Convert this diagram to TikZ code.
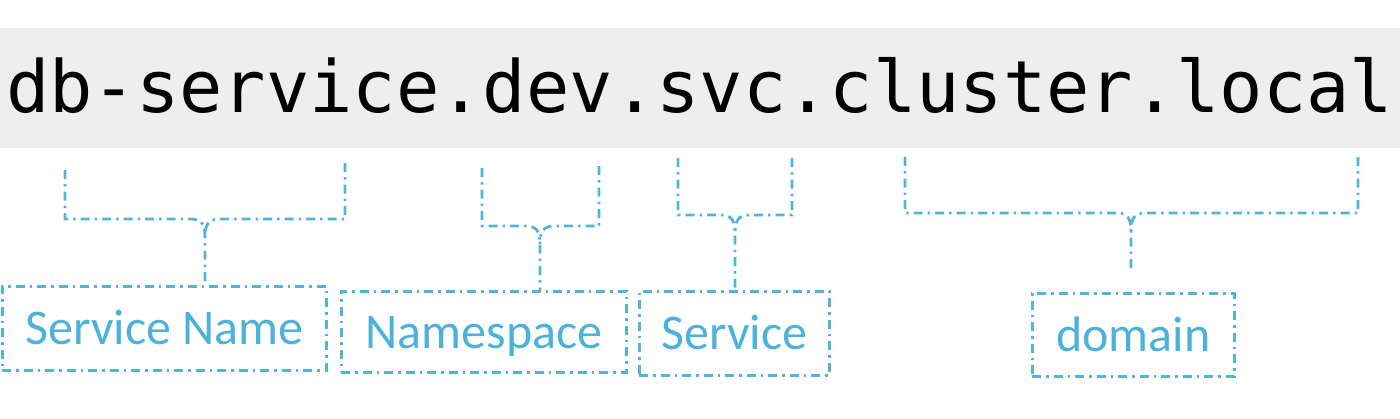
\documentclass[tikz,border=0pt]{standalone}
\usepackage{fontspec}
\setmainfont{Carlito}
\newfontfamily\codefont{DejaVu Sans Mono}
\definecolor{bandgray}{HTML}{EEEEEE}
\definecolor{lblue}{HTML}{52B4DA}
\definecolor{tblue}{HTML}{4DB2D9}
\begin{document}
\begin{tikzpicture}[x=1pt,y=-1pt,
  dd/.style={draw=lblue,line width=2.8pt,dash pattern=on 9pt off 5pt on 2.5pt off 5pt},
  lbl/.style={dd,rectangle,inner sep=0pt,font=\fontsize{50}{50}\selectfont,text=tblue,
    text height=33pt,text depth=0pt,anchor=north west}]
\useasboundingbox (0,0) rectangle (1400,418);
\fill[bandgray] (0,28) rectangle (1400,148);
\node[inner sep=0pt,anchor=base west,font=\codefont\fontsize{72}{72}\selectfont] (fqdn) at (6,112) {db-service.dev.svc.cluster.local};
% boxes
\node[lbl,minimum width=324pt,minimum height=84pt] (sn) at (1,285) {Service Name};
\node[lbl,minimum width=285pt,minimum height=81pt] (ns) at (340,290) {Namespace};
\node[lbl,minimum width=190pt,minimum height=84pt] (sv) at (638,290) {Service};
\node[lbl,minimum width=202pt,minimum height=83pt] (dm) at (1031,292) {domain};
% bracket corners
\coordinate (snL) at (65,170); \coordinate (snR) at (345,163);
\coordinate (nsL) at (482,168); \coordinate (nsR) at (599,166);
\coordinate (svL) at (678,158); \coordinate (svR) at (792,158);
\coordinate (dmL) at (905,157); \coordinate (dmR) at (1358,157);
\coordinate (dmE) at (1131,270);
% brackets
\foreach \L/\R/\yb/\xm/\E in {snL/snR/219/205/sn.north, nsL/nsR/226/540/ns.north, svL/svR/215/735/sv.north, dmL/dmR/213/1131/dmE}{
  \draw[dd] (\L) |- (\xm-14,\yb) .. controls (\xm-4,\yb) and (\xm,\yb+5) .. (\xm,\yb+18) -- (\xm,0 |- \E);
  \draw[dd] (\R) |- (\xm+14,\yb) .. controls (\xm+4,\yb) and (\xm,\yb+5) .. (\xm,\yb+18);
}
\end{tikzpicture}
\end{document}
